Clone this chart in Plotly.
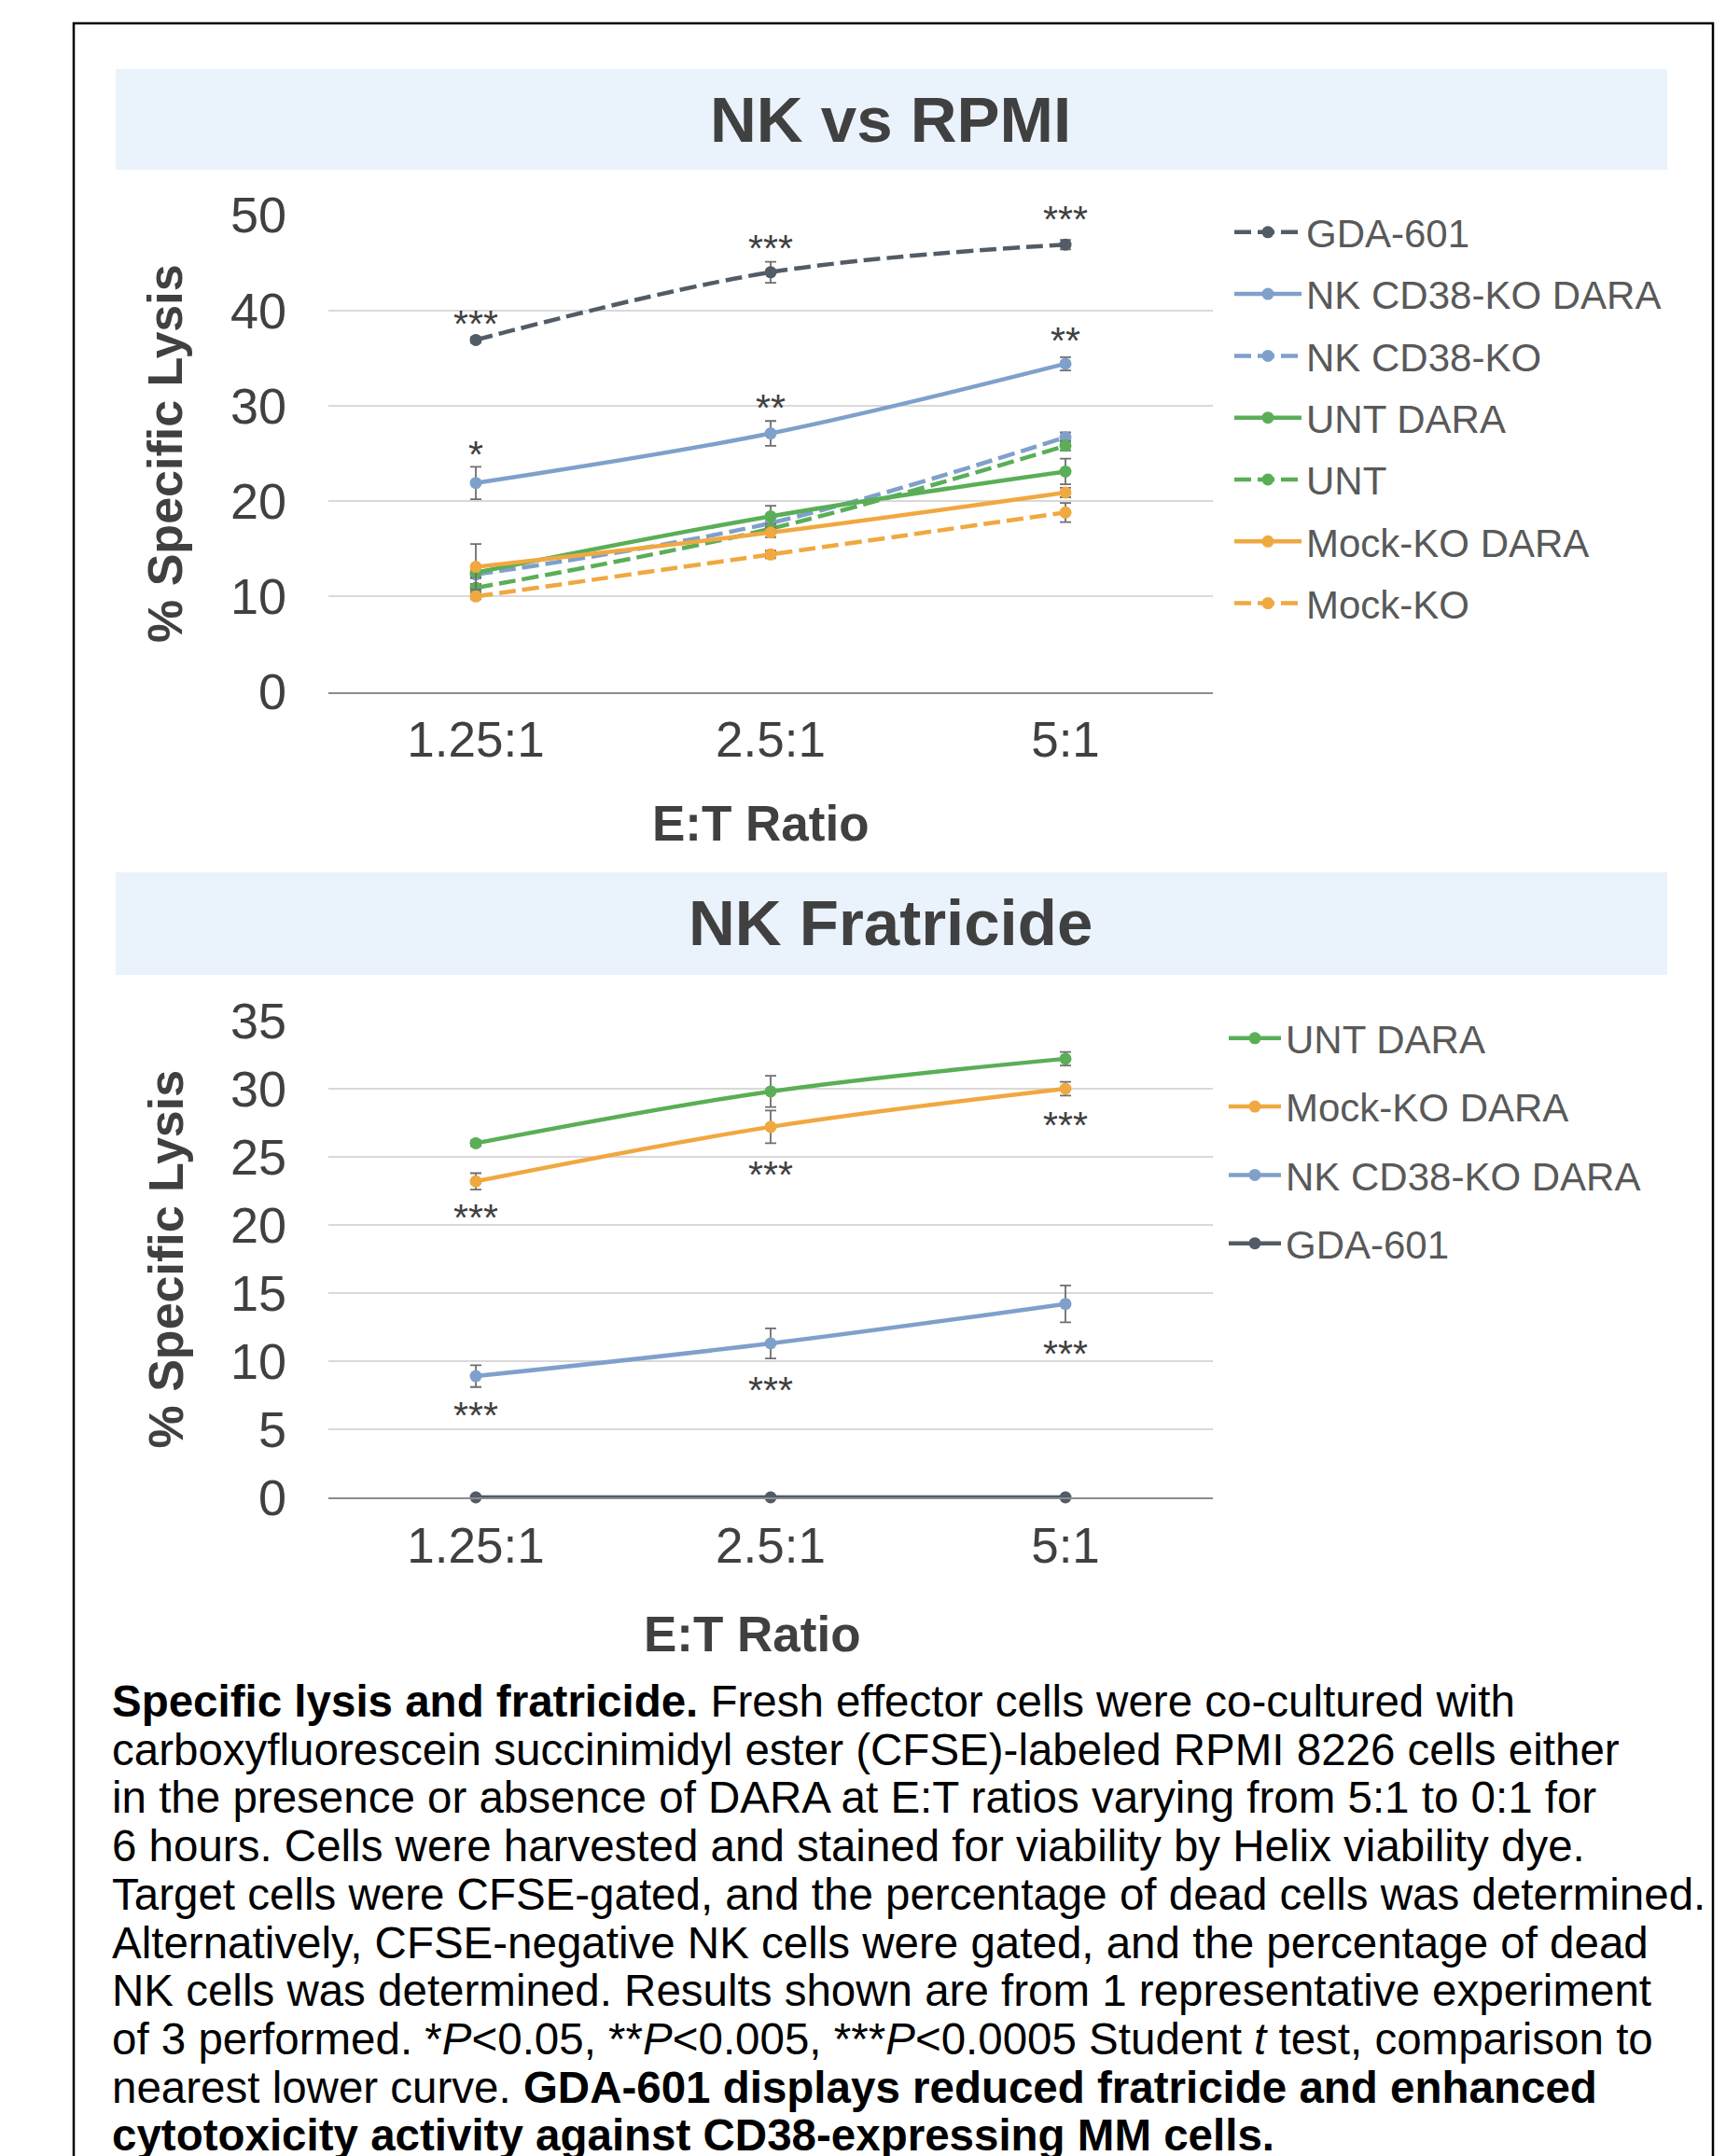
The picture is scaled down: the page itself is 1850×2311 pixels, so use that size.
import plotly.graph_objects as go

W, H = 1850, 2311

# ---------------- data ----------------
ratios = ["1.25:1", "2.5:1", "5:1"]

# Panel A: NK vs RPMI (% specific lysis)
names_a = ["GDA-601", "NK CD38-KO DARA", "NK CD38-KO", "UNT DARA", "UNT", "Mock-KO DARA", "Mock-KO"]
gda_a = [36.9, 44.0, 46.9]
nkko_dara_a = [21.9, 27.1, 34.4]
nkko_a = [12.3, 17.7, 26.7]
unt_dara_a = [12.5, 18.4, 23.1]
unt_a = [10.9, 17.1, 25.8]
mock_dara_a = [13.1, 16.7, 20.9]
mock_a = [10.0, 14.4, 18.8]

gda_a_err = [0.3, 1.1, 0.5]
nkko_dara_a_err = [1.7, 1.3, 0.7]
nkko_a_err = [0.4, 0.6, 0.5]
unt_dara_a_err = [0.5, 1.1, 1.35]
unt_a_err = [0.4, 0.5, 0.5]
mock_dara_a_err = [2.4, 0.5, 0.5]
mock_a_err = [0.3, 0.4, 1.0]

YMAX_A = 50
YMAX_B = 35

# significance labels panel A (label, category, y position in data units)
sig_a_labels = ["***", "***", "***", "*", "**", "**"]
sig_a_cats = ["1.25:1", "2.5:1", "5:1", "1.25:1", "2.5:1", "5:1"]
sig_a_y = [39.4, 47.3, 50.3, 25.7, 30.6, 37.6]

# Panel B: NK Fratricide
names_b = ["UNT DARA", "Mock-KO DARA", "NK CD38-KO DARA", "GDA-601"]
unt_dara_b = [26.0, 29.8, 32.2]
mock_dara_b = [23.2, 27.2, 30.0]
nkko_dara_b = [8.9, 11.3, 14.2]
gda_b = [0.0, 0.0, 0.0]

unt_dara_b_err = [0.2, 1.15, 0.5]
mock_dara_b_err = [0.6, 1.2, 0.5]
nkko_dara_b_err = [0.8, 1.1, 1.35]
gda_b_err = [0.0, 0.0, 0.0]

sig_b_labels = ["***", "***", "***", "***", "***", "***"]
sig_b_cats = ["1.25:1", "2.5:1", "5:1", "1.25:1", "2.5:1", "5:1"]
sig_b_y = [21.1, 24.25, 27.9, 6.6, 8.4, 11.1]

caption_lines = [
    "<b>Specific lysis and fratricide.</b> Fresh effector cells were co-cultured with",
    "carboxyfluorescein succinimidyl ester (CFSE)-labeled RPMI 8226 cells either",
    "in the presence or absence of DARA at E:T ratios varying from 5:1 to 0:1 for",
    "6 hours. Cells were harvested and stained for viability by Helix viability dye.",
    "Target cells were CFSE-gated, and the percentage of dead cells was determined.",
    "Alternatively, CFSE-negative NK cells were gated, and the percentage of dead",
    "NK cells was determined. Results shown are from 1 representative experiment",
    "of 3 performed. *<i>P</i>&lt;0.05, **<i>P</i>&lt;0.005, ***<i>P</i>&lt;0.0005 Student <i>t</i> test, comparison to",
    "nearest lower curve. <b>GDA-601 displays reduced fratricide and enhanced</b>",
    "<b>cytotoxicity activity against CD38-expressing MM cells.</b>",
]

# ---------------- styling ----------------
FONT = "Liberation Sans, Arial, Helvetica, sans-serif"
C_GDA = "#525C67"
C_BLUE = "#7FA0CB"
C_GREEN = "#5AAE57"
C_ORANGE = "#F0A840"
TXT = "#404040"
DASH = "18px,7px"
OFF = 8  # page body margin


def px(x):
    return (x - OFF) / W


def py(y):
    return 1 - (y - OFF) / H


fig = go.Figure()


def add(name, ys, err, color, dash, xa, ya, legend, group):
    fig.add_trace(go.Scatter(
        x=ratios, y=ys, name=name, mode="lines+markers",
        line=dict(color=color, width=4.5, dash=dash, shape="spline"),
        marker=dict(color=color, size=13),
        error_y=dict(type="data", array=err, visible=True, color="#6E6E6E",
                     thickness=1.8, width=6),
        xaxis=xa, yaxis=ya, legend=legend, legendgroup=group, cliponaxis=False,
    ))


series_a = [
    (gda_a, gda_a_err, C_GDA, DASH),
    (nkko_dara_a, nkko_dara_a_err, C_BLUE, "solid"),
    (nkko_a, nkko_a_err, C_BLUE, DASH),
    (unt_dara_a, unt_dara_a_err, C_GREEN, "solid"),
    (unt_a, unt_a_err, C_GREEN, DASH),
    (mock_dara_a, mock_dara_a_err, C_ORANGE, "solid"),
    (mock_a, mock_a_err, C_ORANGE, DASH),
]
for name, (ys, err, c, d) in zip(names_a, series_a):
    add(name, ys, err, c, d, "x", "y", "legend", "a_" + name)

series_b = [
    (unt_dara_b, unt_dara_b_err, C_GREEN),
    (mock_dara_b, mock_dara_b_err, C_ORANGE),
    (nkko_dara_b, nkko_dara_b_err, C_BLUE),
    (gda_b, gda_b_err, C_GDA),
]
for name, (ys, err, c) in zip(names_b, series_b):
    add(name, ys, err, c, "solid", "x2", "y2", "legend2", "b_" + name)

# ---------------- axes ----------------
XDOM = [px(352), px(1300)]
axis_common = dict(
    tickfont=dict(family=FONT, size=54, color=TXT),
    showgrid=True, gridcolor="#D9D9D9", gridwidth=2,
    zeroline=False, ticks="",
)
xcommon = dict(type="category", range=[-0.5, 2.5], showgrid=False, showline=True,
               linecolor="#8C8C8C", linewidth=2,
               tickfont=dict(family=FONT, size=53, color=TXT), ticks="",
               ticklabelstandoff=4)
fig.update_layout(
    xaxis=dict(domain=XDOM, anchor="y", **xcommon),
    yaxis=dict(domain=[py(741.5), py(230.5)], anchor="x", range=[0, YMAX_A], dtick=10,
               ticklabelstandoff=44, **axis_common),
    xaxis2=dict(domain=XDOM, anchor="y2", **xcommon),
    yaxis2=dict(domain=[py(1605), py(1094)], anchor="x2", range=[0, YMAX_B], dtick=5,
                ticklabelstandoff=44, **axis_common),
)

# ---------------- legends ----------------
leg_font = dict(family=FONT, size=42, color="#595959")
fig.update_layout(
    legend=dict(x=px(1318), y=py(215), xanchor="left", yanchor="top", itemwidth=72,
                font=leg_font, tracegroupgap=8.7, bgcolor="rgba(0,0,0,0)"),
    legend2=dict(x=px(1312), y=py(1079), xanchor="left", yanchor="top", itemwidth=56,
                 font=leg_font, tracegroupgap=15.7, bgcolor="rgba(0,0,0,0)"),
    showlegend=True,
)

# ---------------- shapes (frame, title bands) ----------------
shapes = [
    dict(type="rect", xref="paper", yref="paper", x0=px(124), x1=px(1787),
         y0=py(182), y1=py(74), fillcolor="#EAF3FC", line=dict(width=0), layer="below"),
    dict(type="rect", xref="paper", yref="paper", x0=px(124), x1=px(1787),
         y0=py(1045), y1=py(935), fillcolor="#EAF3FC", line=dict(width=0), layer="below"),
    dict(type="path", xref="paper", yref="paper",
         path=f"M {px(79)},{py(2400)} L {px(79)},{py(25)} L {px(1836)},{py(25)} L {px(1836)},{py(2400)}",
         line=dict(color="black", width=2.5)),
]

# ---------------- annotations ----------------
ann = []


def paper_text(text, x, y, size, color=TXT, angle=0, xanchor="center"):
    ann.append(dict(text=text, x=px(x), y=py(y), xref="paper", yref="paper",
                    xanchor=xanchor, yanchor="middle", textangle=angle,
                    showarrow=False, font=dict(family=FONT, size=size, color=color)))


paper_text("<b>NK vs RPMI</b>", 954, 128, 69)
paper_text("<b>NK Fratricide</b>", 954, 990, 69)
for yc in (486, 1349.5):
    paper_text("<b>% Specific Lysis</b>", 177, yc, 52, angle=-90)
for xc, yc in ((815, 882), (806, 1751)):
    paper_text("<b>E:T Ratio</b>", xc, yc, 53)

# significance marks: positioned on the category axis, vertical as fraction of the y range
for lab, cat, yv in zip(sig_a_labels, sig_a_cats, sig_a_y):
    ann.append(dict(text=lab, x=cat, y=yv / YMAX_A, xref="x", yref="y domain", showarrow=False,
                    xanchor="center", yanchor="middle",
                    yshift=-8, font=dict(family=FONT, size=41, color=TXT)))
for lab, cat, yv in zip(sig_b_labels, sig_b_cats, sig_b_y):
    ann.append(dict(text=lab, x=cat, y=yv / YMAX_B, xref="x2", yref="y2 domain", showarrow=False,
                    xanchor="center", yanchor="middle",
                    yshift=-8, font=dict(family=FONT, size=41, color=TXT)))

for i, line in enumerate(caption_lines):
    base = 1840 + i * 51.7
    paper_text(line, 118, base - 16.5, 47.5, color="#000000", xanchor="left")

fig.update_layout(
    width=W, height=H,
    margin=dict(l=0, r=0, t=0, b=0, autoexpand=False),
    paper_bgcolor="white", plot_bgcolor="white",
    font=dict(family=FONT, color=TXT),
    shapes=shapes, annotations=ann,
)

fig.write_html("out.html")
